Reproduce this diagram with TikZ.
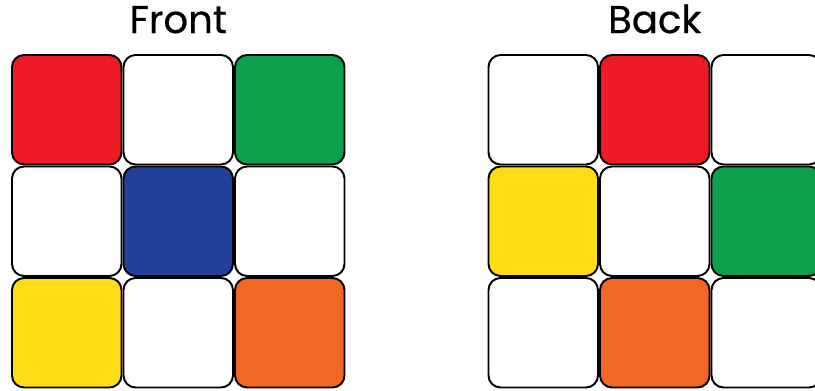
\documentclass[tikz,border=0pt]{standalone}
\usepackage{fontspec}
\setmainfont{Poppins}
\newfontfamily\facefont{Poppins}[FakeBold=0.5]
\usepackage{xcolor}
\definecolor{cred}{RGB}{237,28,36}
\definecolor{cgreen}{RGB}{12,160,74}
\definecolor{cblue}{RGB}{33,64,154}
\definecolor{cyellow}{RGB}{254,221,21}
\definecolor{corange}{RGB}{242,103,35}

\begin{document}
\begin{tikzpicture}[x=0.02cm,y=0.02cm,
  sticker/.style={draw=black,line width=1.1pt,rounded corners=0.24cm,
    minimum size=2.19cm,inner sep=0pt},
  facetitle/.style={font=\facefont\fontsize{22}{26}\selectfont,anchor=base}]
  \useasboundingbox (0,0) rectangle (815,391);
  % Front face
  \foreach \c [count=\i from 0] in {cred,white,cgreen,white,cblue,white,cyellow,white,corange}{
    \pgfmathtruncatemacro\fr{div(\i,3)}
    \pgfmathtruncatemacro\fc{mod(\i,3)}
    \node[sticker,fill=\c] (f-\fr-\fc) at (66.75+111.5*\fc, 281.25-111.5*\fr) {};
  }
  \node[facetitle] (front) at ([yshift=0.42cm]f-0-1.north) {Front};
  % Back face
  \foreach \c [count=\i from 0] in {white,cred,white,cyellow,white,cgreen,white,corange,white}{
    \pgfmathtruncatemacro\fr{div(\i,3)}
    \pgfmathtruncatemacro\fc{mod(\i,3)}
    \node[sticker,fill=\c] (b-\fr-\fc) at (543.25+111.5*\fc, 281.25-111.5*\fr) {};
  }
  \node[facetitle] (back) at ([yshift=0.42cm]b-0-1.north) {Back};
\end{tikzpicture}
\end{document}
